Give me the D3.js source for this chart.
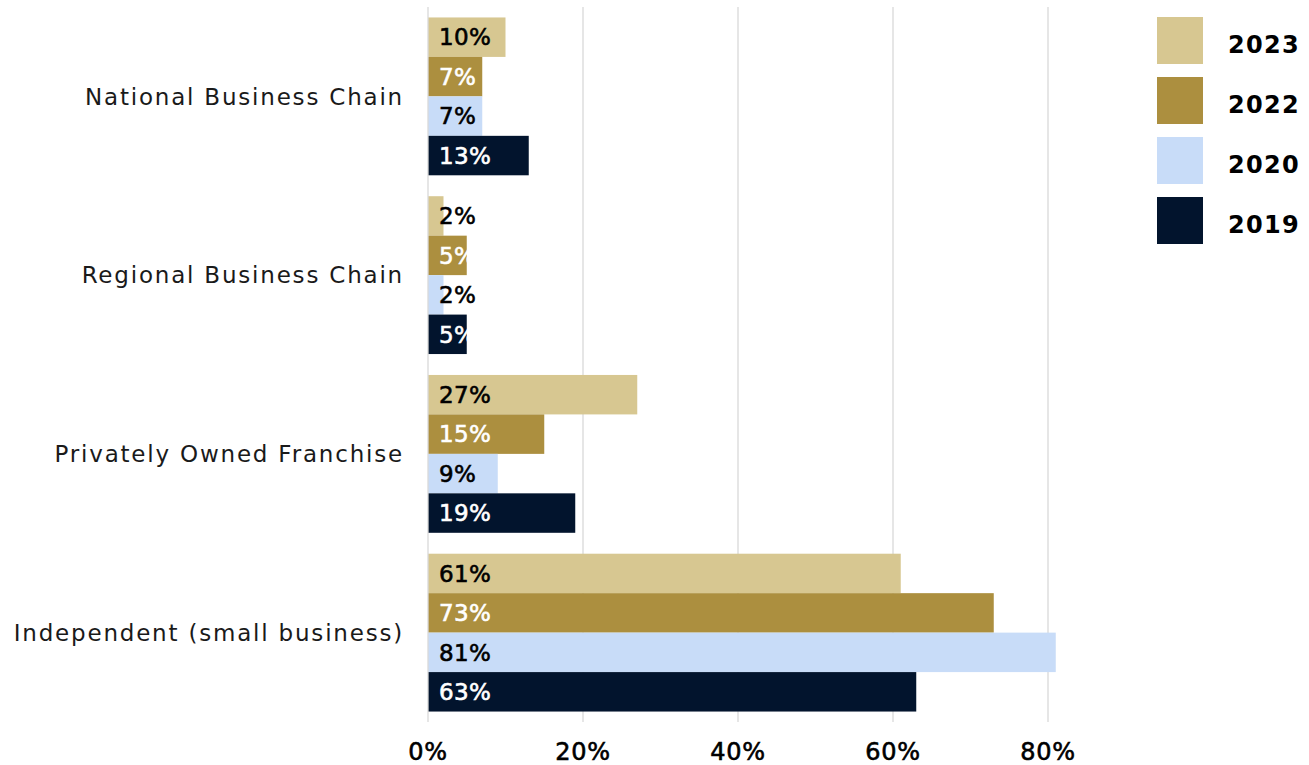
<!DOCTYPE html>
<html>
<head>
<meta charset="utf-8">
<script src="https://cdn.jsdelivr.net/npm/d3@7"></script>
<style>
  html, body { margin: 0; padding: 0; background: #fff; }
  svg { display: block; }
</style>
</head>
<body>
<svg id="chart" width="1309" height="765"></svg>
<script>
// Business types, top to bottom
const categories = [
  "National Business Chain",
  "Regional Business Chain",
  "Privately Owned Franchise",
  "Independent (small business)"
];
// Survey years, in bar order within each group
const years = ["2023", "2022", "2020", "2019"];
// Share of respondents (%) per category, one array per year
const values2023 = [10, 2, 27, 61];
const values2022 = [7, 5, 15, 73];
const values2020 = [7, 2, 9, 81];
const values2019 = [13, 5, 19, 63];
const xTicks = [0, 20, 40, 60, 80];

const seriesByYear = { "2023": values2023, "2022": values2022, "2020": values2020, "2019": values2019 };
const colors = { "2023": "#D7C791", "2022": "#AC8F3F", "2020": "#C8DCF8", "2019": "#02142D" };
const labelColors = { "2023": "#000", "2022": "#fff", "2020": "#000", "2019": "#fff" };

const svg = d3.select("#chart");
const margin = { top: 7, plotBottom: 722 };

const x = d3.scaleLinear().domain([0, 80]).range([428, 1048]);
const y0 = d3.scaleBand().domain(categories)
  .range([margin.top, margin.plotBottom]).paddingInner(0.117).paddingOuter(0.0585);
const y1 = d3.scaleBand().domain(years).range([0, y0.bandwidth()]).padding(0);

const font = "'DejaVu Sans', 'Open Sans', sans-serif";

// Vertical gridlines
svg.append("g").selectAll("line").data(xTicks.filter(d => d > 0)).join("line")
  .attr("x1", d => x(d)).attr("x2", d => x(d))
  .attr("y1", margin.top).attr("y2", margin.plotBottom)
  .attr("stroke", "#d9d9d9").attr("stroke-width", 1.3);

// Bars grouped by category
const groups = svg.append("g").selectAll("g").data(categories).join("g")
  .attr("transform", d => `translate(0,${y0(d)})`);

const rows = groups.selectAll("g.bar").data((c, i) => years.map(yr => ({ yr, v: seriesByYear[yr][i] })))
  .join("g").attr("class", "bar");

rows.append("rect")
  .attr("x", x(0))
  .attr("y", d => y1(d.yr))
  .attr("width", d => x(d.v) - x(0))
  .attr("height", y1.bandwidth())
  .attr("fill", d => colors[d.yr]);

rows.append("text")
  .attr("x", x(0) + 11)
  .attr("y", d => y1(d.yr) + y1.bandwidth() / 2)
  .attr("dy", "0.36em")
  .attr("fill", d => labelColors[d.yr])
  .attr("stroke", d => labelColors[d.yr])
  .attr("stroke-width", 0.6)
  .style("font-family", font)
  .style("font-size", "23px")
  .style("letter-spacing", "0.4px")
  .text(d => d.v + "%");

// Baseline
svg.append("line")
  .attr("x1", x(0)).attr("x2", x(0))
  .attr("y1", margin.top).attr("y2", margin.plotBottom)
  .attr("stroke", "#d9d9d9").attr("stroke-width", 1.3);

// Category labels
svg.append("g").selectAll("text").data(categories).join("text")
  .attr("x", 404)
  .attr("y", d => y0(d) + y0.bandwidth() / 2)
  .attr("dy", "0.36em")
  .attr("text-anchor", "end")
  .attr("fill", "#1a1a1a")
  .style("font-family", font)
  .style("font-size", "23px")
  .style("letter-spacing", "1.8px")
  .text(d => d);

// X axis tick labels
svg.append("g").selectAll("text").data(xTicks).join("text")
  .attr("x", d => x(d))
  .attr("y", 760)
  .attr("text-anchor", "middle")
  .attr("fill", "#000")
  .attr("stroke", "#000")
  .attr("stroke-width", 0.6)
  .style("font-family", font)
  .style("font-size", "24px")
  .style("letter-spacing", "0.8px")
  .text(d => d + "%");

// Legend
const legend = svg.append("g").selectAll("g").data(years).join("g")
  .attr("transform", (d, i) => `translate(1157,${17 + i * 60})`);
legend.append("rect")
  .attr("width", 46).attr("height", 47)
  .attr("fill", d => colors[d]);
legend.append("text")
  .attr("x", 71).attr("y", 27).attr("dy", "0.36em")
  .attr("fill", "#000")
  .style("font-family", font)
  .style("font-weight", 700)
  .style("font-size", "24px")
  .style("letter-spacing", "1.3px")
  .text(d => d);
</script>
</body>
</html>
